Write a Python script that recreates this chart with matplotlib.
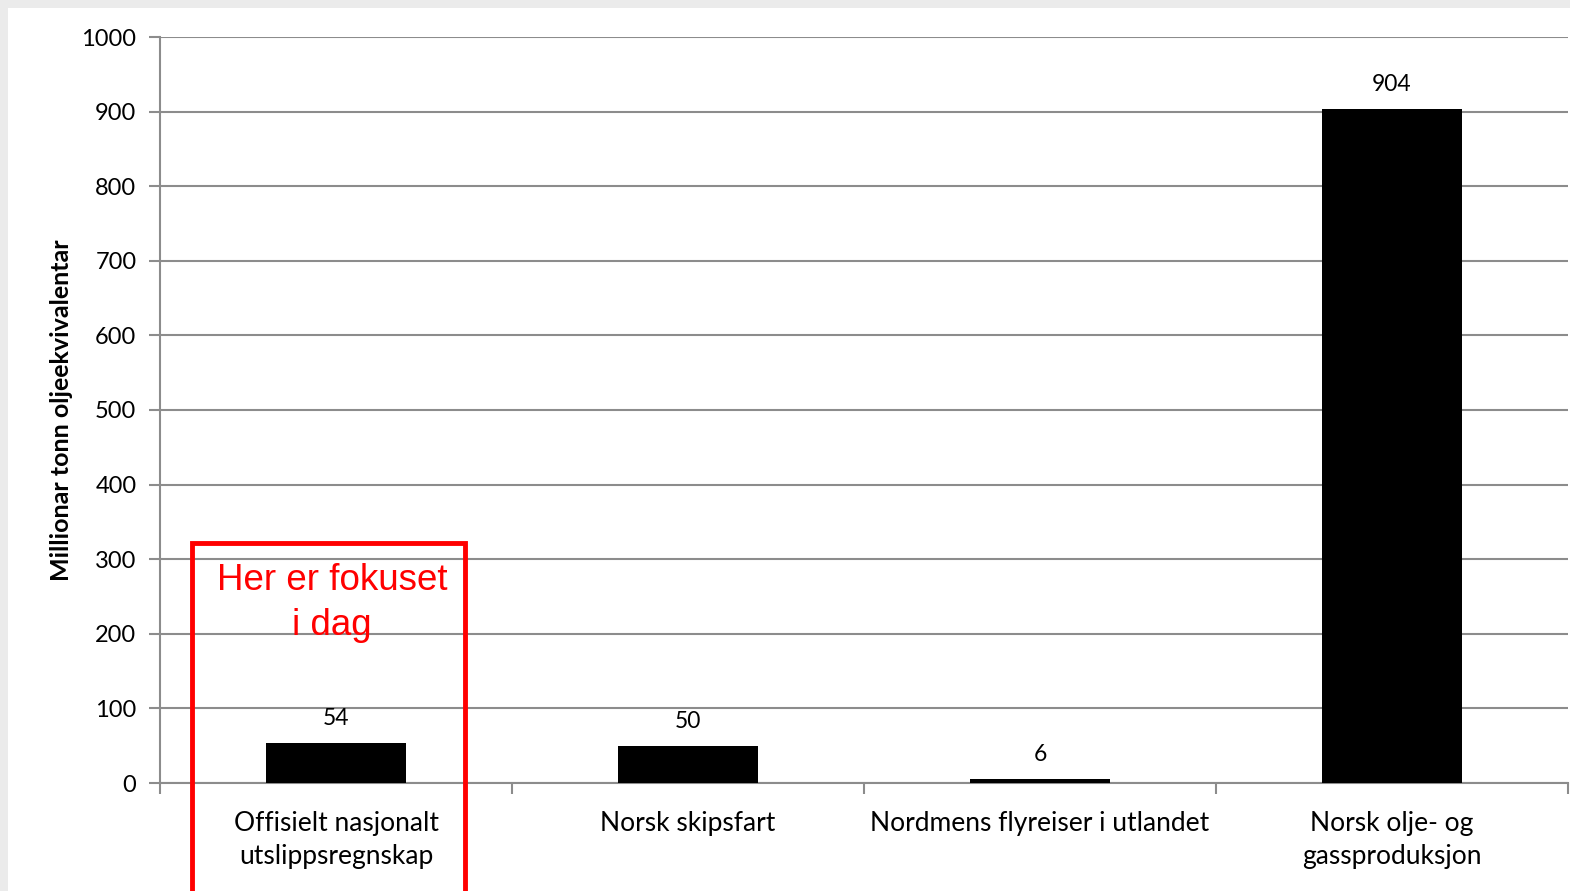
import matplotlib
matplotlib.use('Agg')
import matplotlib.pyplot as plt
from matplotlib.patches import Rectangle

categories = [
    "Offisielt nasjonalt\nutslippsregnskap",
    "Norsk skipsfart",
    "Nordmens flyreiser i utlandet",
    "Norsk olje- og\ngassproduksjon",
]
values = [54, 50, 6, 904]
yticks = list(range(0, 1001, 100))

plt.rcParams['font.family'] = ['Lato', 'DejaVu Sans']

fig = plt.figure(figsize=(15.7, 8.91), dpi=100)
fig.patch.set_facecolor('#ebebeb')
# white panel
fig.add_artist(Rectangle((8 / 1570, 0), 1 - 8 / 1570, 1 - 8 / 891,
                         transform=fig.transFigure, facecolor='white',
                         edgecolor='none', zorder=0))

ax = fig.add_axes([160 / 1570, (891 - 783) / 891, 1408 / 1570, 746 / 891])
ax.set_facecolor('none')

x = list(range(len(categories)))
ax.bar(x, values, width=0.4, color='black', zorder=3)
for xi, v in zip(x, values):
    ax.annotate(str(v), (xi, v), xytext=(0, 10), textcoords='offset points',
                ha='center', va='bottom', fontsize=16.5, color='black')

ax.set_xlim(-0.5, len(categories) - 0.5)
ax.set_ylim(0, 1000)
ax.set_yticks(yticks)
ax.set_yticklabels([str(t) for t in yticks], fontsize=17)
ax.yaxis.grid(True, color='#8c8c8c', linewidth=1.5, zorder=1)
ax.set_axisbelow(True)

ax.set_xticks([i - 0.5 for i in range(len(categories) + 1)], minor=False)
ax.set_xticklabels([])
ax.set_xticks(x, minor=True)
ax.set_xticklabels(categories, minor=True, fontsize=19, linespacing=1.4)
ax.tick_params(axis='x', which='minor', length=0, pad=20)
ax.tick_params(axis='x', which='major', length=8, width=1.5, color='#8c8c8c')
ax.tick_params(axis='y', length=8, width=1.5, color='#8c8c8c', pad=9)

for s in ['top', 'right']:
    ax.spines[s].set_visible(False)
for s in ['left', 'bottom']:
    ax.spines[s].set_color('#8c8c8c')
    ax.spines[s].set_linewidth(1.5)

ax.set_ylabel('Millionar tonn oljeekvivalentar', fontsize=18, fontweight='bold',
              labelpad=6)

# red focus box
fig.add_artist(Rectangle((192 / 1570, -0.05), 273 / 1570, (891 - 543) / 891 + 0.05,
                         transform=fig.transFigure, facecolor='none',
                         edgecolor='#ff0000', linewidth=3.5, zorder=5))
fig.text(332 / 1570, (891 - 603) / 891, 'Her er fokuset\ni dag', color='#ff0000',
         fontsize=26.5, family=['Liberation Sans', 'DejaVu Sans'],
         ha='center', va='center', linespacing=1.35, zorder=6)

fig.savefig('out.png', dpi=100, facecolor=fig.get_facecolor())
